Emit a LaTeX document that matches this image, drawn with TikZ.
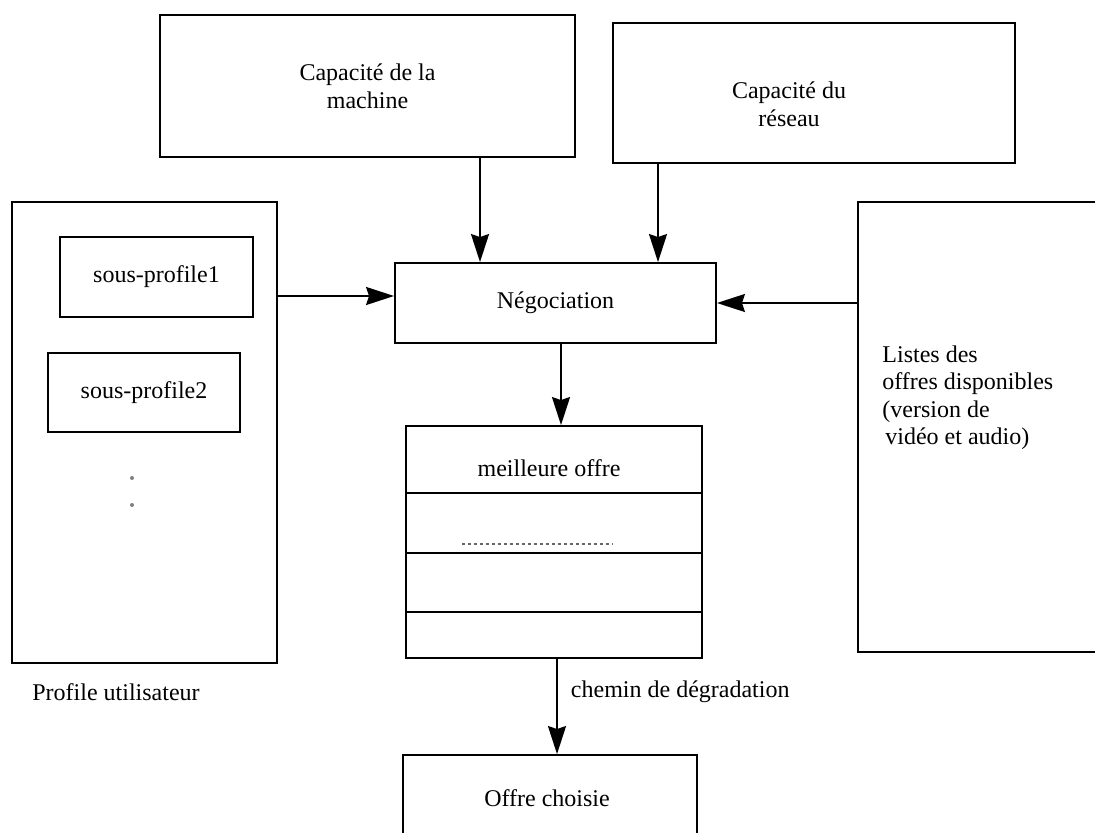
\documentclass[tikz,border=0pt]{standalone}
\usepackage{fontspec}
\setmainfont{Liberation Serif}
\usetikzlibrary{arrows.meta}
\begin{document}
\begin{tikzpicture}[x=0.5pt,y=-0.5pt,
  font=\fontsize{12pt}{13.8pt}\selectfont,
  box/.style={draw,line width=0.95pt,rectangle,inner sep=0pt,align=center},
  lbl/.style={inner sep=0pt,align=left},
  arr/.style={line width=0.95pt,-{Stealth[length=14pt,width=9pt,inset=1.5pt]}},
  sep/.style={line width=0.95pt}]
\useasboundingbox (0,0) rectangle (1095,833);
\clip (0,0) rectangle (1095,833);
\fill[white] (0,0) rectangle (1095,833);

% inputs of the negotiation
\node[box,minimum width=207.5pt,minimum height=71pt] (machine) at (367.5,86)
  {Capacité de la\\machine};
\node[box,minimum width=201pt,minimum height=70pt] (reseau) at (814,93) {};
\node[lbl,align=center] (reseautxt) at (789,104) {Capacité du\\réseau};

% user profile
\node[box,minimum width=132.5pt,minimum height=230.5pt] (profil) at (144.5,432.5) {};
\node[box,minimum width=96.5pt,minimum height=40pt] (sp1) at (156.5,277) {sous-profile1};
\node[box,minimum width=96pt,minimum height=39.5pt] (sp2) at (144,392.5) {sous-profile2};
\fill[gray] (132,478) circle (2) (132,505) circle (2);
\node[lbl] (profiltxt) at (116,692) {Profile utilisateur};

% available offers
\node[box,minimum width=171pt,minimum height=225pt] (offres) at (1029,427) {};
\node[lbl,anchor=north west] (offrestxt) at (882,345)
  {Listes des\\offres disponibles\\(version de\\\hspace{1.5pt}vidéo et audio)};

% negotiation
\node[box,minimum width=160.5pt,minimum height=40pt] (nego) at (555.5,303) {Négociation};

% degradation path
\node[box,minimum width=148pt,minimum height=116pt] (chemin) at (554,542) {};
\node[lbl] (best) at (549,468) {meilleure offre};
\draw[sep] (chemin.west |- 0,493) -- (chemin.east |- 0,493);
\draw[sep] (chemin.west |- 0,553) -- (chemin.east |- 0,553);
\draw[sep] (chemin.west |- 0,612) -- (chemin.east |- 0,612);
\draw[gray!80!black,line width=0.9pt,dash pattern=on 1.4pt off 1.6pt] (462,544) -- (613,544);

% chosen offer
\node[box,minimum width=147pt,minimum height=72.5pt] (choix) at (550,827.5) {};
\node[lbl] (choixtxt) at (547,798) {Offre choisie};

% connectors
\coordinate (xa) at (480,0);
\coordinate (xb) at (658,0);
\coordinate (xc) at (561,0);
\coordinate (xd) at (557,0);
\coordinate (ya) at (0,296);
\coordinate (yb) at (0,303);
\draw[arr] (machine.south -| xa) -- (nego.north -| xa);
\draw[arr] (reseau.south -| xb) -- (nego.north -| xb);
\draw[arr] (profil.east |- ya) -- (nego.west |- ya);
\draw[arr] (offres.west |- yb) -- (nego.east |- yb);
\draw[arr] (nego.south -| xc) -- (chemin.north -| xc);
\draw[arr] (chemin.south -| xd) -- node[lbl,anchor=west,xshift=6.5pt,pos=0.35] (degr) {chemin de dégradation} (choix.north -| xd);
\end{tikzpicture}
\end{document}
